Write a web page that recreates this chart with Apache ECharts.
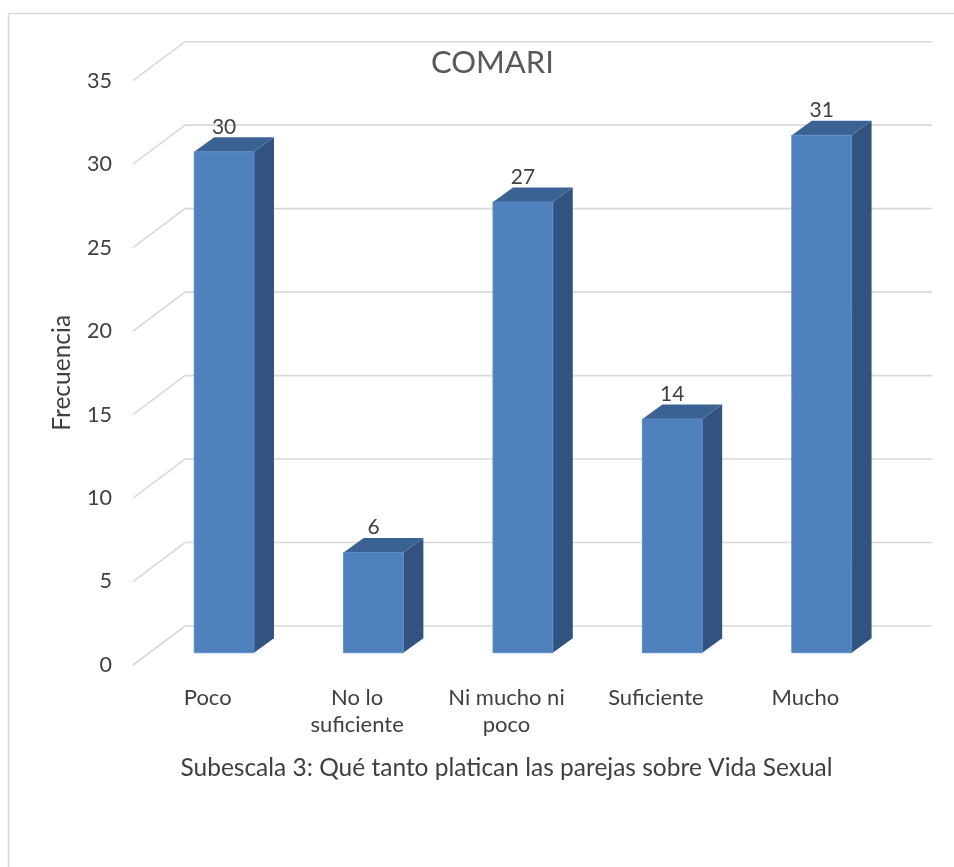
<!DOCTYPE html>
<html>
<head>
<meta charset="utf-8">
<script src="https://cdn.jsdelivr.net/npm/echarts@6/dist/echarts.min.js"></script>
<style>
  html, body { margin: 0; padding: 0; background: #fff; }
  #main { width: 954px; height: 867px; }
</style>
</head>
<body>
<div id="main"></div>
<script>
var categories = ['Poco', 'No lo\nsuficiente', 'Ni mucho ni\npoco', 'Suficiente', 'Mucho'];
var frecuencias = [30, 6, 27, 14, 31];
var yTicks = [0, 5, 10, 15, 20, 25, 30, 35];

var chart = echarts.init(document.getElementById('main'));

// 3d look: floor depth of the back wall and where the bars sit in it
var wallDx = 52, wallDy = -39;
var barDx = 16.4, barDy = -12.3;
var sideDx = 20, sideDy = -14.5;

var gridData = yTicks.map(function (v) { return [0, v]; });
var barData = frecuencias.map(function (v, i) { return [i, v]; });

function renderGrid(params, api) {
    var cs = params.coordSys;
    var y = api.coord([0, api.value(1)])[1];
    var x0 = cs.x;
    return {
        type: 'polyline',
        shape: { points: [[x0, y], [x0 + wallDx, y + wallDy], [cs.x + cs.width + wallDx, y + wallDy]] },
        style: { stroke: '#d9d9d9', lineWidth: 1.6, fill: null }
    };
}

function renderBar(params, api) {
    var idx = api.value(0);
    var val = api.value(1);
    var top = api.coord([idx, val]);
    var base = api.coord([idx, 0]);
    var bw = api.size([1, 0])[0] * 0.4;
    var cx = top[0] + barDx;
    var x0 = cx - bw / 2, x1 = cx + bw / 2;
    var yt = top[1] + barDy, yb = base[1] + barDy;
    return {
        type: 'group',
        children: [
            {
                type: 'polygon',
                shape: { points: [[x1, yt], [x1 + sideDx, yt + sideDy], [x1 + sideDx, yb + sideDy], [x1, yb]] },
                style: { fill: '#325380' }
            },
            {
                type: 'polygon',
                shape: { points: [[x0, yt], [x1, yt], [x1 + sideDx, yt + sideDy], [x0 + sideDx, yt + sideDy]] },
                style: { fill: '#3a6393' }
            },
            {
                type: 'rect',
                shape: { x: x0, y: yt, width: bw, height: yb - yt },
                style: { fill: '#4f81bd', stroke: '#5b8cc8', lineWidth: 1 }
            },
            {
                type: 'text',
                style: {
                    text: String(val), x: cx, y: yt - 25,
                    align: 'center', verticalAlign: 'middle',
                    fontSize: 21, fontFamily: 'Lato', fill: '#404040'
                }
            }
        ]
    };
}

var option = {
    backgroundColor: '#fff',
    textStyle: { fontFamily: 'Lato' },
    title: {
        text: 'COMARI',
        left: 426,
        top: 42,
        textStyle: { fontSize: 31, fontWeight: 'normal', color: '#595959', fontFamily: 'Lato' }
    },
    graphic: [
        {
            type: 'rect',
            shape: { x: 8.5, y: 13.5, width: 1000, height: 1000 },
            style: { fill: null, stroke: '#d9d9d9', lineWidth: 1.5 },
            silent: true
        }
    ],
    grid: { left: 133, right: 74, top: 80.7, bottom: 202 },
    xAxis: {
        type: 'category',
        data: categories,
        axisLine: { show: false },
        axisTick: { show: false },
        axisLabel: { fontSize: 22, lineHeight: 27, color: '#404040', margin: 19, interval: 0 },
        name: 'Subescala 3: Qué tanto platican las parejas sobre Vida Sexual',
        nameLocation: 'middle',
        nameGap: 91,
        nameTextStyle: { fontSize: 24.5, color: '#404040' }
    },
    yAxis: {
        type: 'value',
        min: 0,
        max: 35,
        interval: 5,
        splitLine: { show: false },
        axisLine: { show: false },
        axisTick: { show: false },
        axisLabel: { fontSize: 21.5, color: '#404040', margin: 21 },
        name: 'Frecuencia',
        nameLocation: 'middle',
        nameRotate: 90,
        nameGap: 58,
        nameTextStyle: { fontSize: 24.5, color: '#404040' }
    },
    series: [
        {
            type: 'custom',
            renderItem: renderGrid,
            data: gridData,
            silent: true,
            z: 1
        },
        {
            type: 'custom',
            renderItem: renderBar,
            data: barData,
            z: 2
        }
    ]
};

chart.setOption(option);
</script>
</body>
</html>
